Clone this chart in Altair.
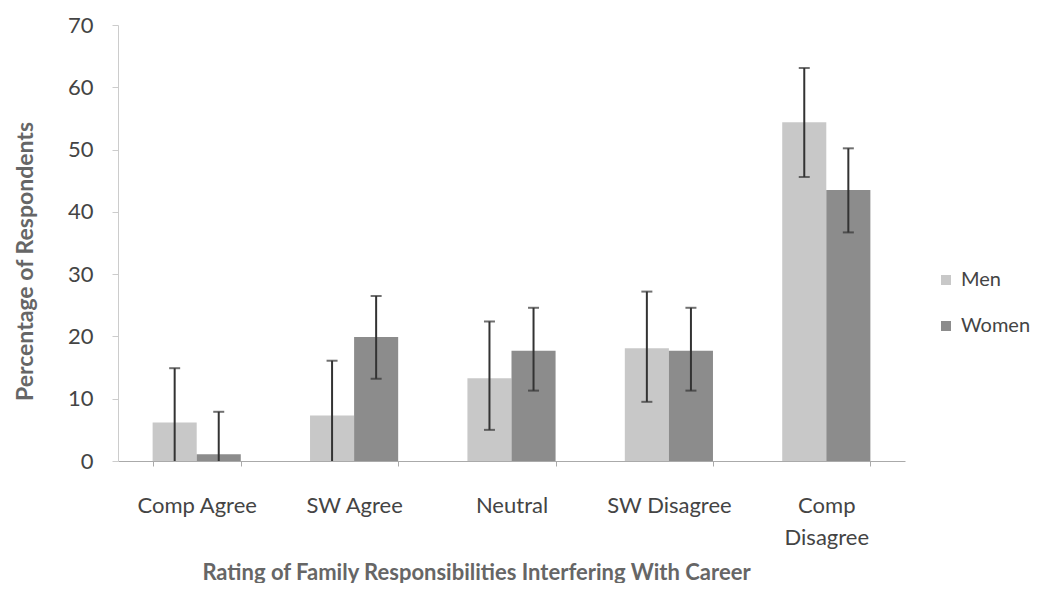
import altair as alt
import pandas as pd

categories = ["Comp Agree", "SW Agree", "Neutral", "SW Disagree", "Comp Disagree"]
groups = ["Men", "Women"]
men = [6.2, 7.3, 13.3, 18.1, 54.4]
women = [1.1, 19.9, 17.7, 17.7, 43.5]
men_low = [0, 0, 5.0, 9.5, 45.6]
men_high = [14.9, 16.1, 22.4, 27.2, 63.1]
women_low = [0, 13.2, 11.3, 11.3, 36.7]
women_high = [7.9, 26.5, 24.6, 24.6, 50.2]

rows = []
for i, c in enumerate(categories):
    rows.append({"cat": c, "g": "Men", "v": men[i], "lo": men_low[i], "hi": men_high[i]})
    rows.append({"cat": c, "g": "Women", "v": women[i], "lo": women_low[i], "hi": women_high[i]})
df = pd.DataFrame(rows)

FONT = "Lato"
LBL = "#444444"
TTL = "#666666"

x = alt.X("cat:N", sort=categories, scale=alt.Scale(paddingInner=0.44, paddingOuter=0.22),
          axis=alt.Axis(title="Rating of Family Responsibilities Interfering With Career",
                        labelAngle=0, labelFontSize=22, labelFont=FONT, labelColor=LBL,
                        labelPadding=39, labelLineHeight=32, labelBaseline="middle",
                        labelExpr="datum.value == 'Comp Disagree' ? ['Comp', 'Disagree'] : datum.value",
                        tickBand="extent", tickSize=5, tickColor="#aaaaaa",
                        domainColor="#aaaaaa",
                        titleFont=FONT, titleFontSize=22, titleFontWeight="bold", titleColor=TTL,
                        titleX=358, titleY=111, titleAnchor="middle", titleBaseline="middle"))
xo = alt.XOffset("g:N", sort=groups)
yscale = alt.Scale(domain=[0, 70])

bars = alt.Chart(df).mark_bar().encode(
    x=x, xOffset=xo,
    y=alt.Y("v:Q", scale=yscale,
            axis=alt.Axis(title="Percentage of Respondents", values=list(range(0, 71, 10)),
                          grid=False, labelFontSize=22, labelFont=FONT, labelColor=LBL,
                          labelPadding=19, tickSize=6, tickColor="#cccccc", domainColor="#cccccc",
                          titleFont=FONT, titleFontSize=23, titleFontWeight="bold", titleColor=TTL,
                          titleX=-93, titleY=236, titleAngle=-90, titleAnchor="middle",
                          titleBaseline="middle")),
    color=alt.Color("g:N", sort=groups, scale=alt.Scale(domain=groups, range=["#c8c8c8", "#8c8c8c"]),
                    legend=alt.Legend(title=None, orient="none", legendX=818, legendY=245,
                                      symbolType="square", symbolSize=100, symbolStrokeWidth=0,
                                      labelFontSize=20, labelFont=FONT, labelColor=LBL,
                                      rowPadding=26, labelOffset=5)),
)

rules = alt.Chart(df).mark_rule(color="#333333", strokeWidth=2).encode(
    x=x, xOffset=xo, y=alt.Y("lo:Q", scale=yscale), y2="hi:Q")
cap_hi = alt.Chart(df).mark_tick(color="#333333", thickness=2, size=11, orient="horizontal").encode(
    x=x, xOffset=xo, y=alt.Y("hi:Q", scale=yscale))
cap_lo = alt.Chart(df).transform_filter("datum.lo > 0").mark_tick(
    color="#333333", thickness=2, size=11, orient="horizontal").encode(
    x=x, xOffset=xo, y=alt.Y("lo:Q", scale=yscale))

chart = alt.layer(bars, rules, cap_hi, cap_lo).properties(
    width=787, height=436,
    background="white",
    autosize=alt.AutoSizeParams(type="none"),
    padding={"left": 110, "top": 17, "right": 133, "bottom": 122},
).configure_view(stroke=None)

chart.save("out.html", embed_options={"renderer": "svg", "actions": False})
